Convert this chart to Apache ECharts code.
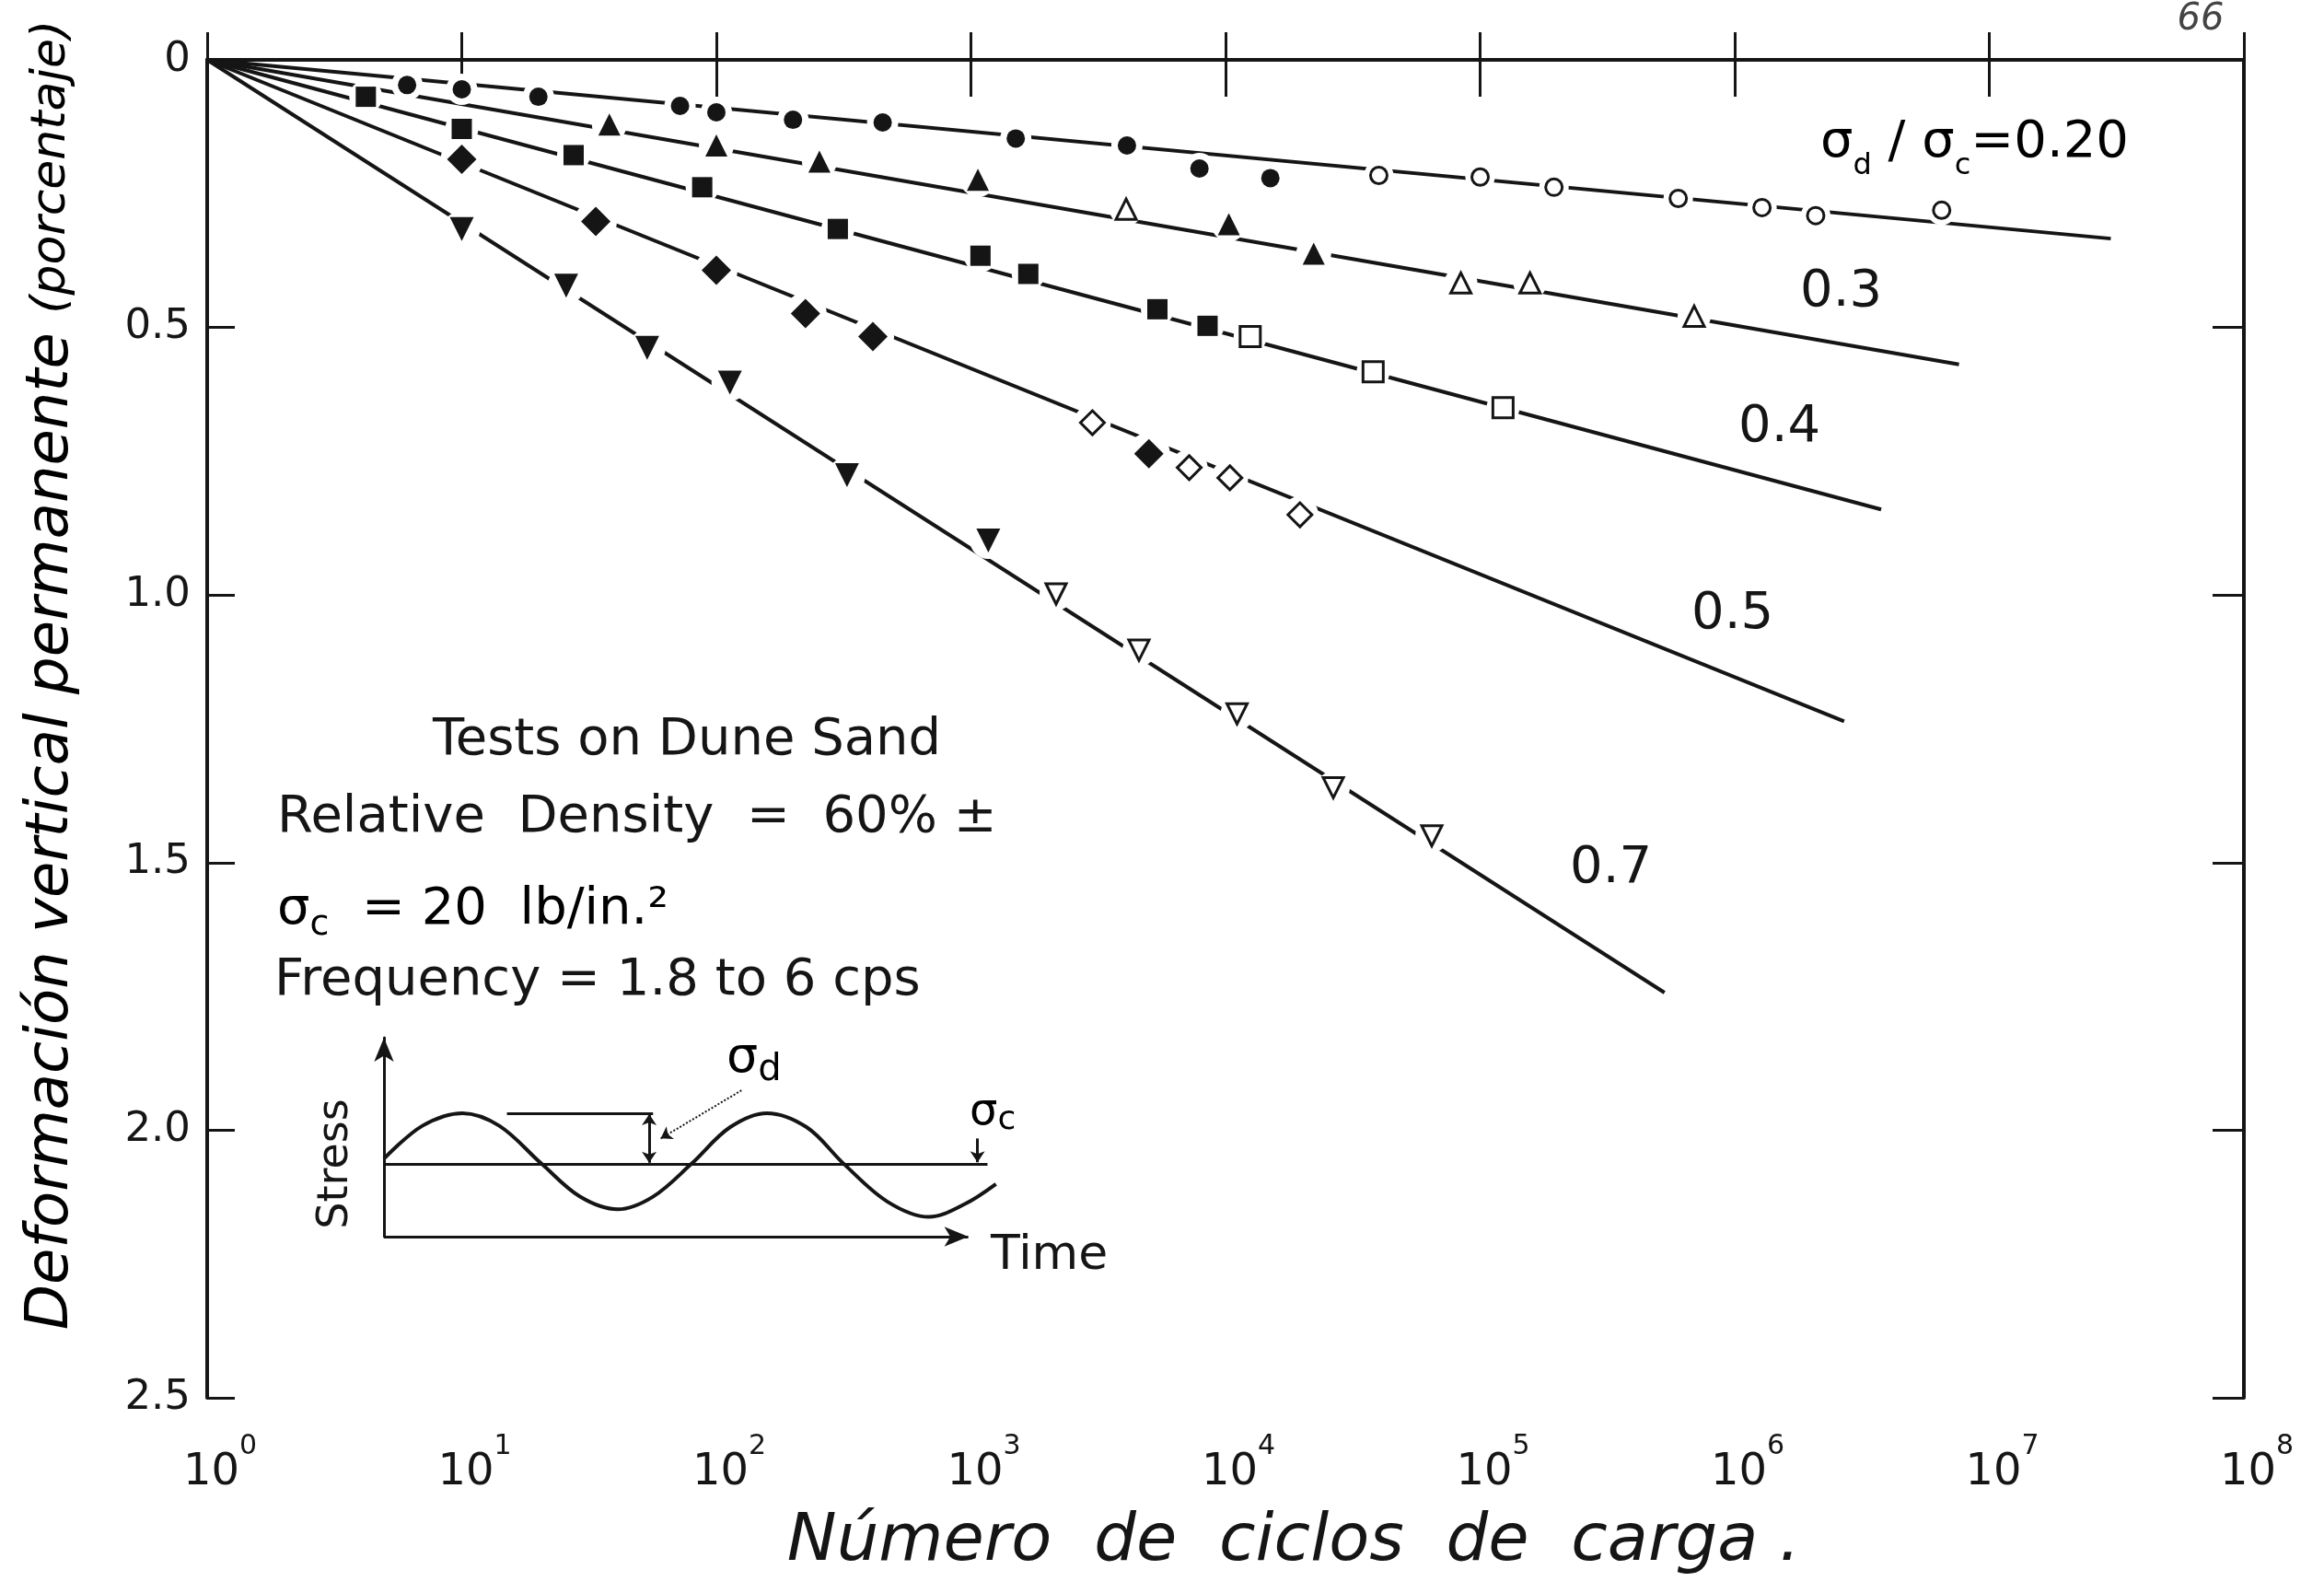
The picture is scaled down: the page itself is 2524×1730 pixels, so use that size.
<!DOCTYPE html>
<html>
<head>
<meta charset="utf-8">
<title>Deformación vertical permanente - ciclos de carga</title>
<script src="https://cdn.jsdelivr.net/npm/echarts@6.0.0/dist/echarts.min.js"></script>
<style>
    html, body { margin: 0; padding: 0; background: #fff; }
    #chart { width: 2524px; height: 1730px; }
</style>
</head>
<body>
<div id="chart"></div>
<script>
var INK = '#151515';
var FONT = 'DejaVu Sans';

// stress ratio labels, one per curve
var ratioLabels = ['0.20', '0.3', '0.4', '0.5', '0.7'];

// y ticks (percent) and x decades
var strainTicks = [0, 0.5, 1.0, 1.5, 2.0, 2.5];
var cycleMin = 1, cycleMax = 1e8;

// measured points [cycles, permanent strain %]  (filled / open markers)
var r020Filled = [[6.1, 0.047], [10, 0.055], [20, 0.069], [72, 0.086], [100, 0.098], [200, 0.112],
    [450, 0.117], [1500, 0.147], [4100, 0.160], [7900, 0.203], [15000, 0.221]];
var r020Open = [[40000, 0.216], [100000, 0.219], [195000, 0.238], [600000, 0.259],
    [1280000, 0.276], [2080000, 0.291], [6500000, 0.281]];

var r03Filled = [[38, 0.121], [100, 0.160], [254, 0.190], [1065, 0.224], [10300, 0.307], [22200, 0.362]];
var r03Open = [[4070, 0.279], [84000, 0.417], [157000, 0.417], [693000, 0.479]];

var r04Filled = [[4.2, 0.069], [10, 0.129], [27.5, 0.178], [88, 0.238], [300, 0.316], [1090, 0.366],
    [1680, 0.400], [5400, 0.466], [8500, 0.497]];
var r04Open = [[12500, 0.517], [38000, 0.583], [123000, 0.650]];

var r05Filled = [[10, 0.186], [33.6, 0.302], [100, 0.393], [224, 0.474], [412, 0.517], [5000, 0.736]];
var r05Open = [[3000, 0.678], [7200, 0.762], [10400, 0.781], [19600, 0.850]];

var r07Filled = [[10, 0.316], [25.7, 0.422], [53.5, 0.538], [113, 0.603], [326, 0.776], [1170, 0.898]];
var r07Open = [[2160, 0.998], [4570, 1.103], [11100, 1.222], [26500, 1.360], [64600, 1.450]];

// straight fitted lines on the semi-log plot
var r020Fit = [[1, 0], [3.0e7, 0.334]];
var r03Fit = [[1, 0], [7.6e6, 0.569]];
var r04Fit = [[1, 0], [3.76e6, 0.840]];
var r05Fit = [[1, 0], [2.69e6, 1.236]];
var r07Fit = [[1, 0], [5.3e5, 1.743]];

// inset sketch: stress pulse (x in quarter periods, y relative to sigma_c)
var stressWave = [[0, 0.1], [0.5, 0.75], [1.02, 1.0], [1.5, 0.75], [2.05, 0], [2.55, -0.65],
    [3.04, -0.9], [3.5, -0.65], [4.0, 0], [4.5, 0.72], [4.98, 1.0], [5.5, 0.72], [5.98, 0],
    [6.55, -0.75], [7.09, -1.05], [7.55, -0.8], [7.96, -0.4]];

var chart = echarts.init(document.getElementById('chart'), null, { renderer: 'canvas' });

function fitLine(data) {
    return {
        type: 'line', data: data, symbol: 'none', z: 2, silent: true,
        lineStyle: { color: INK, width: 4 }
    };
}

function halo(data, size) {
    return {
        type: 'scatter', data: data, symbol: 'circle', symbolSize: size + 14, z: 3, silent: true,
        itemStyle: { color: '#fff', opacity: 1 }
    };
}

function marks(data, symbol, size, filled, rotate) {
    return {
        type: 'scatter', data: data, symbol: symbol, symbolSize: size, symbolRotate: rotate || 0,
        z: 4, silent: true,
        itemStyle: filled ? { color: INK, opacity: 1 }
                          : { color: '#fff', borderColor: INK, borderWidth: 3, opacity: 1 }
    };
}

var series = [];
[r020Fit, r03Fit, r04Fit, r05Fit, r07Fit].forEach(function (d) { series.push(fitLine(d)); });

var groups = [
    [r020Filled, 'circle', 20, true, 0], [r020Open, 'circle', 18, false, 0],
    [r03Filled, 'triangle', 24, true, 0], [r03Open, 'triangle', 22, false, 0],
    [r04Filled, 'rect', 22, true, 0], [r04Open, 'rect', 22, false, 0],
    [r05Filled, 'diamond', 32, true, 0], [r05Open, 'diamond', 26, false, 0],
    [r07Filled, 'triangle', 26, true, 180], [r07Open, 'triangle', 22, false, 180]
];
groups.forEach(function (g) { series.push(halo(g[0], g[2])); });
groups.forEach(function (g) { series.push(marks(g[0], g[1], g[2], g[3], g[4])); });

// inset wave with its annotation lines
series.push({
    type: 'line', xAxisIndex: 2, yAxisIndex: 2, data: stressWave, smooth: 0.35,
    symbol: 'none', silent: true, z: 5,
    lineStyle: { color: INK, width: 4 },
    markLine: {
        silent: true, animation: false, label: { show: false },
        lineStyle: { color: INK, width: 3, type: 'solid' },
        symbolSize: 12,
        data: [
            // time axis with arrow
            [{ coord: [0, -1.44], symbol: 'none' }, { coord: [7.6, -1.44], symbol: 'arrow', symbolSize: [16, 26] }],
            // sigma_c level
            [{ coord: [0, 0], symbol: 'none' }, { coord: [7.85, 0], symbol: 'none' }],
            // sigma_d bracket
            [{ coord: [1.6, 1.0], symbol: 'none' }, { coord: [3.5, 1.0], symbol: 'none' }],
            [{ coord: [3.45, 0.02], symbol: 'arrow' }, { coord: [3.45, 0.98], symbol: 'arrow' }],
            [{ coord: [4.65, 1.45], symbol: 'none', lineStyle: { type: 'dotted', width: 2, curveness: 0.25 } },
                { coord: [3.6, 0.5], symbol: 'arrow' }],
            // sigma_c pointer
            [{ coord: [7.72, 0.5], symbol: 'none' }, { coord: [7.72, 0.03], symbol: 'arrow' }]
        ]
    }
});

function subRich(big, small, lh) {
    return {
        m: { fontSize: big, fontFamily: FONT, color: INK, lineHeight: lh, verticalAlign: 'top' },
        sb: { fontSize: small, fontFamily: FONT, color: INK, verticalAlign: 'bottom' }
    };
}

function plainText(txt, x, y, size) {
    return {
        type: 'text', x: x, y: y, silent: true,
        style: { text: txt, fontSize: size, fontFamily: FONT, fill: INK, align: 'left', verticalAlign: 'middle' }
    };
}

var graphics = [
    // curve labels
    { type: 'text', x: 1977, y: 127, silent: true,
      style: { text: '{m|σ}{sb|d}{m| / σ}{sb|c}{m|=' + ratioLabels[0] + '}', rich: subRich(56, 32, 70) } },
    plainText(ratioLabels[1], 1955, 317, 56),
    plainText(ratioLabels[2], 1888, 464, 56),
    plainText(ratioLabels[3], 1837, 667, 56),
    plainText(ratioLabels[4], 1705, 943, 56),

    // test notes
    plainText('Tests on Dune Sand', 470, 804, 56),
    plainText('Relative  Density  =  60% ±', 301, 888, 56),
    { type: 'text', x: 301, y: 960, silent: true,
      style: { text: '{m|σ}{sb|c}{m|  = 20  lb/in.²}', rich: subRich(56, 38, 64) } },
    plainText('Frequency = 1.8 to 6 cps', 298, 1065, 56),

    // inset labels
    { type: 'text', x: 789, y: 1123, silent: true,
      style: { text: '{m|σ}{sb|d}', rich: subRich(54, 40, 60) } },
    { type: 'text', x: 1053, y: 1185, silent: true,
      style: { text: '{m|σ}{sb|c}', rich: subRich(48, 36, 50) } },
    plainText('Time', 1076, 1364, 52),
    { type: 'text', x: 365, y: 1264, rotation: Math.PI / 2, silent: true,
      style: { text: 'Stress', fontSize: 46, fontFamily: FONT, fill: INK, align: 'center', verticalAlign: 'middle' } },

    // axis titles (handwritten in the original)
    { type: 'text', x: 1405, y: 1675, silent: true,
      style: { text: 'Número  de  ciclos  de  carga .', fontSize: 72, fontStyle: 'italic', fontFamily: FONT,
               fill: INK, align: 'center', verticalAlign: 'middle' } },
    { type: 'text', x: 56, y: 733, rotation: Math.PI / 2, silent: true,
      style: { text: '{a|Deformación vertical permanente }{b|(porcentaje)}', align: 'center', verticalAlign: 'middle',
               rich: {
                   a: { fontSize: 64, fontStyle: 'italic', fontFamily: FONT, color: INK },
                   b: { fontSize: 52, fontStyle: 'italic', fontFamily: FONT, color: INK }
               } } },
    { type: 'text', x: 2390, y: 22, silent: true,
      style: { text: '66', fontSize: 40, fontStyle: 'italic', fontFamily: FONT, fill: '#444',
               align: 'center', verticalAlign: 'middle' } }
];

var frameLine = { show: true, lineStyle: { color: INK, width: 4 } };

var option = {
    backgroundColor: '#fff',
    animation: false,
    grid: [
        { left: 225, top: 65, width: 2212, height: 1453 },
        { left: 417, top: 1127, width: 668, height: 216 }
    ],
    xAxis: [
        {
            type: 'log', logBase: 10, min: cycleMin, max: cycleMax, splitNumber: 8, gridIndex: 0,
            position: 'bottom',
            axisLine: frameLine,
            axisTick: { show: true, inside: true, length: 30, lineStyle: { color: INK, width: 3 } },
            splitLine: { show: false }, minorTick: { show: false },
            axisLabel: {
                show: true, margin: 38, showMinLabel: true, showMaxLabel: true, padding: [0, 0, 0, 28],
                formatter: function (v) {
                    return '{b|10}{s|' + Math.round(Math.log10(v)) + '}';
                },
                rich: {
                    b: { fontSize: 48, fontFamily: FONT, color: INK, lineHeight: 68, verticalAlign: 'bottom' },
                    s: { fontSize: 30, fontFamily: FONT, color: INK, verticalAlign: 'top' }
                }
            }
        },
        {
            type: 'log', logBase: 10, min: cycleMin, max: cycleMax, splitNumber: 8, gridIndex: 0,
            position: 'top',
            axisLine: frameLine,
            axisTick: { show: true, inside: true, length: 40, lineStyle: { color: INK, width: 3 } },
            splitLine: { show: false }, minorTick: { show: false },
            axisLabel: { show: false }
        },
        {
            type: 'value', gridIndex: 1, min: 0, max: 8,
            axisLine: { show: false },
            axisTick: { show: false }, axisLabel: { show: false }, splitLine: { show: false }
        }
    ],
    yAxis: [
        {
            type: 'value', inverse: true, min: strainTicks[0], max: strainTicks[strainTicks.length - 1],
            interval: 0.5, gridIndex: 0,
            axisLine: frameLine,
            axisTick: { show: true, inside: true, length: 30, lineStyle: { color: INK, width: 3 } },
            splitLine: { show: false },
            axisLabel: {
                show: true, margin: 18, fontSize: 45, fontFamily: FONT, color: INK,
                showMinLabel: true, showMaxLabel: true,
                formatter: function (v) { return v === 0 ? '0' : v.toFixed(1); }
            }
        },
        {
            type: 'value', inverse: true, min: strainTicks[0], max: strainTicks[strainTicks.length - 1],
            interval: 0.5, gridIndex: 0,
            position: 'right',
            axisLine: frameLine,
            axisTick: { show: true, inside: true, length: 34, lineStyle: { color: INK, width: 3 } },
            splitLine: { show: false }, axisLabel: { show: false }
        },
        {
            type: 'value', gridIndex: 1, min: -1.44, max: 2.49,
            axisLine: { show: true, onZero: false, symbol: ['none', 'arrow'], symbolSize: [16, 26],
                        lineStyle: { color: INK, width: 3 } },
            axisTick: { show: false }, axisLabel: { show: false }, splitLine: { show: false }
        }
    ],
    series: series,
    graphic: graphics
};

chart.setOption(option);
</script>
</body>
</html>
